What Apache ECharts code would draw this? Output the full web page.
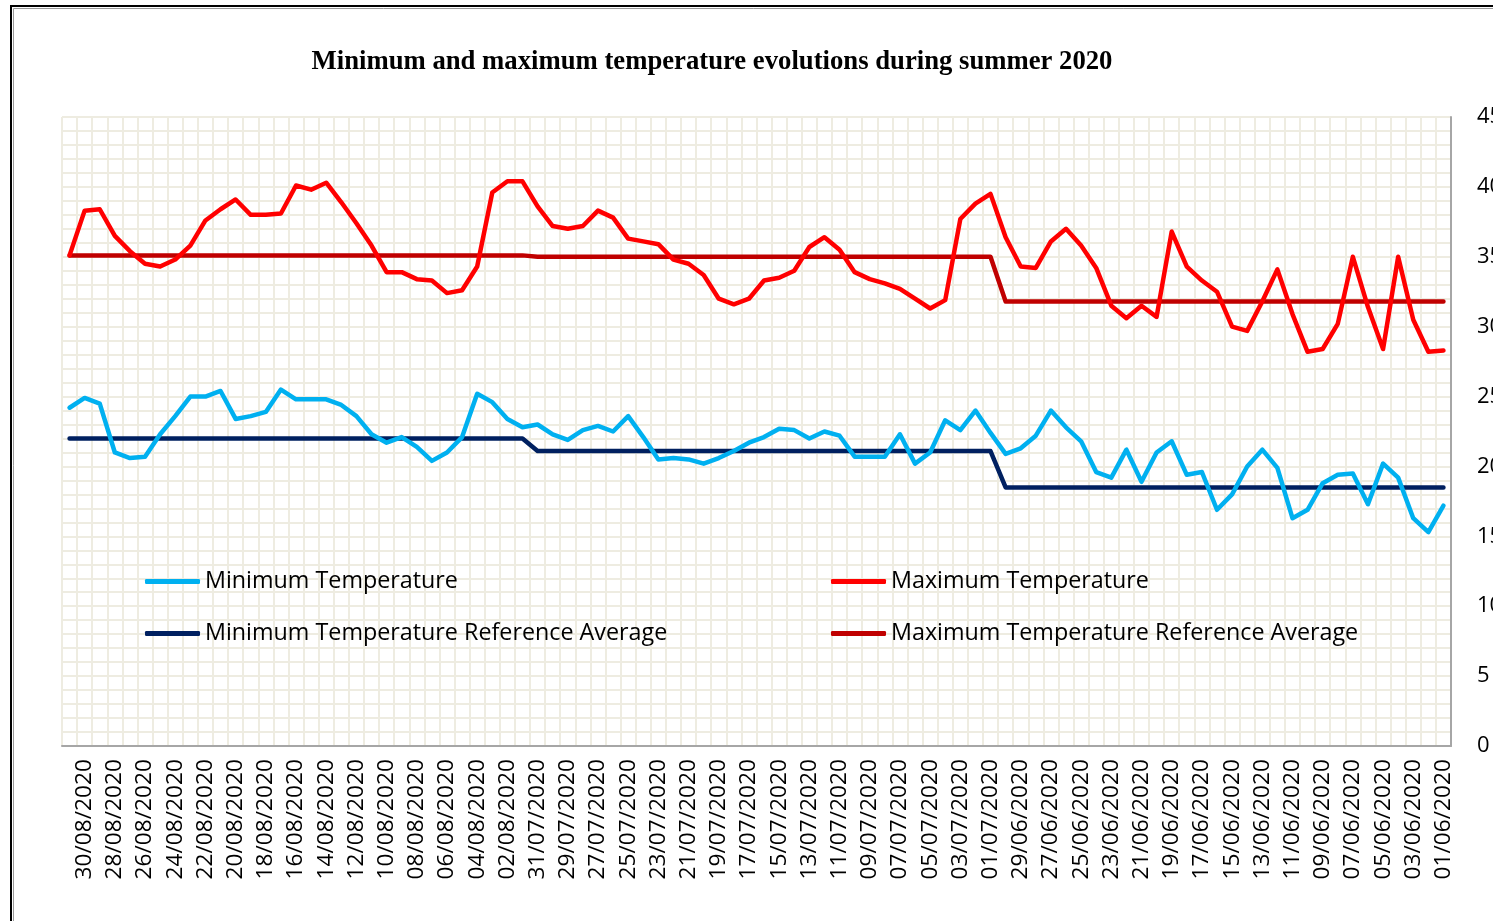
<!DOCTYPE html>
<html>
<head>
<meta charset="utf-8">
<title>Minimum and maximum temperature evolutions during summer 2020</title>
<script src="https://cdn.jsdelivr.net/npm/echarts@6/dist/echarts.min.js"></script>
<style>
    html, body { margin: 0; padding: 0; background: #fff; }
    #chart { width: 1493px; height: 921px; }
</style>
</head>
<body>
<div id="chart"></div>
<script>
// categories : 01/06/2020 -> 31/08/2020 (axis is drawn reversed, like the excel sheet)
var months = [['06', 30], ['07', 31], ['08', 31]];
var dates = [];
months.forEach(function (m) {
    for (var d = 1; d <= m[1]; d++) {
        dates.push((d < 10 ? '0' + d : '' + d) + '/' + m[0] + '/2020');
    }
});

// daily minimum temperature (°C), june / july / august
var minJune = [17.2, 15.3, 16.3, 19.2, 20.2, 17.3, 19.5, 19.4, 18.8, 16.9, 16.3, 19.9, 21.2, 20.0, 18.0,
    16.9, 19.6, 19.4, 21.8, 21.0, 18.9, 21.2, 19.2, 19.6, 21.8, 22.8, 24.0, 22.2, 21.3, 20.9];
var minJuly = [22.4, 24.0, 22.6, 23.3, 21.0, 20.2, 22.3, 20.7, 20.7, 20.7, 22.2, 22.5, 22.0, 22.6, 22.7,
    22.1, 21.7, 21.1, 20.6, 20.2, 20.5, 20.6, 20.5, 22.1, 23.6, 22.5, 22.9, 22.6, 21.9, 22.3, 23.0];
var minAugust = [22.8, 23.4, 24.6, 25.2, 22.1, 21.0, 20.4, 21.4, 22.1, 21.7, 22.3, 23.6, 24.4, 24.8, 24.8,
    24.8, 25.5, 23.9, 23.6, 23.4, 25.4, 25.0, 25.0, 23.6, 22.3, 20.7, 20.6, 21.0, 24.5, 24.9, 24.2];

// daily maximum temperature (°C)
var maxJune = [28.3, 28.2, 30.5, 35.0, 28.4, 31.4, 35.0, 30.2, 28.4, 28.2, 30.9, 34.1, 31.8, 29.7, 30.0,
    32.5, 33.3, 34.3, 36.8, 30.7, 31.5, 30.6, 31.5, 34.2, 35.8, 37.0, 36.1, 34.2, 34.3, 36.4];
var maxJuly = [39.5, 38.8, 37.7, 31.9, 31.3, 32.0, 32.7, 33.1, 33.4, 33.9, 35.5, 36.4, 35.7, 34.0, 33.5,
    33.3, 32.0, 31.6, 32.0, 33.7, 34.5, 34.8, 35.9, 36.1, 36.3, 37.8, 38.3, 37.2, 37.0, 37.2, 38.6];
var maxAugust = [40.4, 40.4, 39.6, 34.3, 32.6, 32.4, 33.3, 33.4, 33.9, 33.9, 35.8, 37.4, 38.9, 40.3, 39.8,
    40.1, 38.1, 38.0, 38.0, 39.1, 38.4, 37.6, 35.8, 34.8, 34.3, 34.5, 35.4, 36.5, 38.4, 38.3, 35.1];

// monthly reference averages
var minRefByMonth = { '06': 18.5, '07': 21.1, '08': 22.0 };
var maxRefByMonth = { '06': 31.8, '07': 35.0, '08': 35.1 };

var yTicks = [0, 5, 10, 15, 20, 25, 30, 35, 40, 45];

var minTemp = minJune.concat(minJuly, minAugust);
var maxTemp = maxJune.concat(maxJuly, maxAugust);
var minRef = dates.map(function (d) { return minRefByMonth[d.substr(3, 2)]; });
var maxRef = dates.map(function (d) { return maxRefByMonth[d.substr(3, 2)]; });

var font = '"Open Sans", "Noto Sans", sans-serif';
var gridColor = '#EEECE1';

var dom = document.getElementById('chart');
var myChart = echarts.init(dom, null, { renderer: 'canvas' });

function lineSerie(name, data, color, z) {
    return {
        name: name,
        type: 'line',
        data: data,
        symbol: 'none',
        showSymbol: false,
        z: z,
        animation: false,
        itemStyle: { color: color },
        lineStyle: { color: color, width: 4.5, cap: 'round', join: 'round' }
    };
}

var legendBase = {
    orient: 'vertical',
    top: 563,
    itemWidth: 55,
    itemHeight: 5,
    itemGap: 25,
    icon: 'roundRect',
    textStyle: { fontFamily: font, fontSize: 23.3, color: '#000', lineHeight: 27 }
};

var option = {
    backgroundColor: '#fff',
    animation: false,
    title: {
        text: 'Minimum and maximum temperature evolutions during summer 2020',
        left: 707,
        textAlign: 'center',
        top: 44,
        textStyle: {
            fontFamily: '"Liberation Serif", "Times New Roman", serif',
            fontWeight: 'bold',
            fontSize: 26.7,
            color: '#000'
        }
    },
    legend: [
        Object.assign({}, legendBase, {
            left: 140,
            data: ['Minimum Temperature', 'Minimum Temperature Reference Average']
        }),
        Object.assign({}, legendBase, {
            left: 826,
            data: ['Maximum Temperature', 'Maximum Temperature Reference Average']
        })
    ],
    grid: {
        left: 62,
        right: 42,
        top: 117,
        bottom: 175,
        outerBoundsMode: 'none'
    },
    xAxis: {
        type: 'category',
        data: dates,
        inverse: true,
        boundaryGap: true,
        axisLine: { show: true, lineStyle: { color: '#A6A6A6', width: 2 } },
        axisTick: { show: false },
        axisLabel: {
            interval: 1,
            rotate: 90,
            margin: 13,
            color: '#000',
            fontFamily: font,
            fontSize: 22.7
        },
        splitLine: { show: true, interval: 0, lineStyle: { color: gridColor, width: 2 } }
    },
    yAxis: {
        type: 'value',
        position: 'right',
        min: yTicks[0],
        max: yTicks[yTicks.length - 1],
        interval: 5,
        axisLine: { show: true, lineStyle: { color: '#A6A6A6', width: 2 } },
        axisTick: { show: false },
        axisLabel: {
            margin: 26,
            color: '#000',
            fontFamily: font,
            fontSize: 22
        },
        splitLine: { show: true, lineStyle: { color: gridColor, width: 2 } },
        minorTick: { show: false, splitNumber: 5 },
        minorSplitLine: { show: true, lineStyle: { color: gridColor, width: 2 } }
    },
    graphic: [
        // the frame of the original excel chart (cut off right and bottom)
        {
            type: 'rect',
            shape: { x: 11, y: 6, width: 1600, height: 1000 },
            style: { fill: null, stroke: '#000', lineWidth: 2 },
            z: 100
        },
        {
            type: 'rect',
            shape: { x: 13.5, y: 8.5, width: 1600, height: 1000 },
            style: { fill: null, stroke: '#9a9a9a', lineWidth: 1 },
            z: 100
        }
    ],
    series: [
        lineSerie('Minimum Temperature Reference Average', minRef, '#002060', 2),
        lineSerie('Maximum Temperature Reference Average', maxRef, '#C00000', 2),
        lineSerie('Minimum Temperature', minTemp, '#00B0F0', 3),
        lineSerie('Maximum Temperature', maxTemp, '#FF0000', 3)
    ]
};

if (option && typeof option === 'object') {
    myChart.setOption(option, true);
}
</script>
</body>
</html>
